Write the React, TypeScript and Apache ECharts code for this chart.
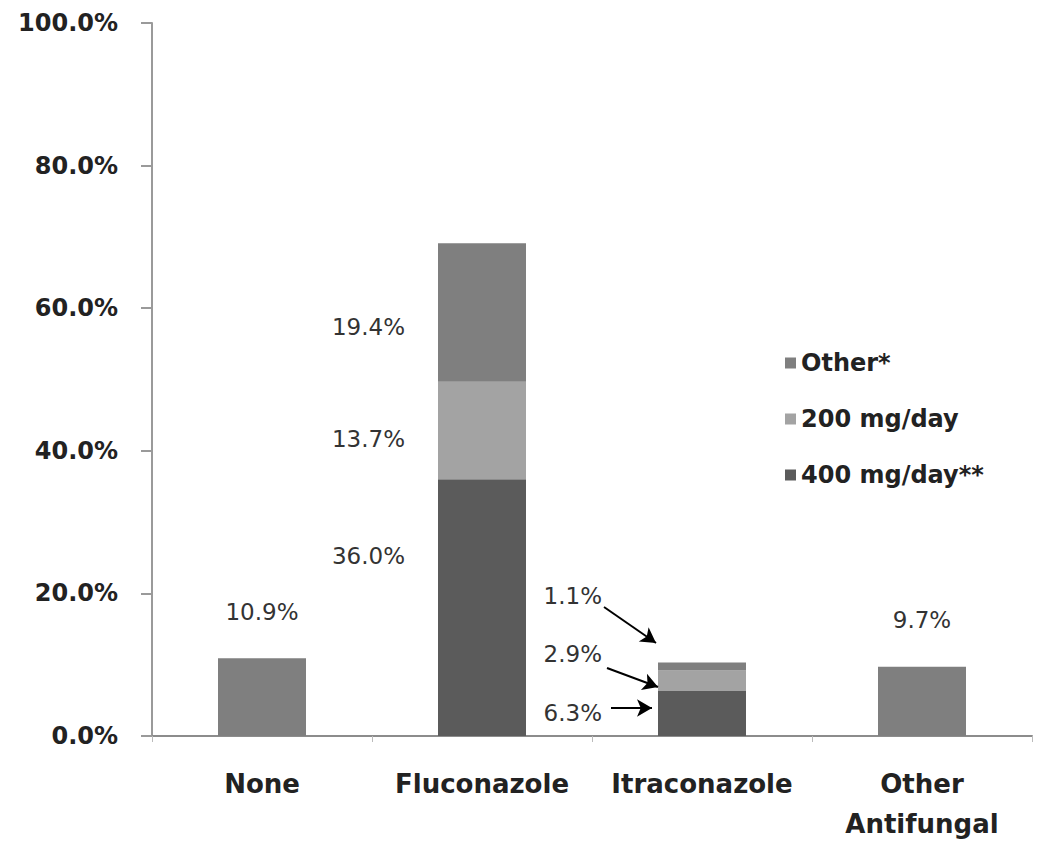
import React, { useEffect, useRef } from "react";
import * as echarts from "echarts";

const categories = ["None", "Fluconazole", "Itraconazole", "Other\nAntifungal"];
const seriesNames = ["400 mg/day**", "200 mg/day", "Other*"];
const dose400 = [null, 36.0, 6.3, null];
const dose200 = [null, 13.7, 2.9, null];
const otherDose = [10.9, 19.4, 1.1, 9.7];
const yTicks = [0, 20, 40, 60, 80, 100];
const colors = ["#5b5b5b", "#a3a3a3", "#7f7f7f"];

const valueFont = { fontFamily: "DejaVu Sans", fontSize: 23, color: "#333" };

// label placement per category (annotation layout only)
const fluconazoleOffsets = [-52, 9, 15];
const itraOffsets = [-1, -27, -70];

function buildData(values: (number | null)[], seriesIdx: number) {
  return values.map((v, i) => {
    if (v === null) return null;
    const fmt = v.toFixed(1) + "%";
    if (i === 1) {
      return {
        value: v,
        label: { show: true, position: "left", distance: 33, offset: [0, fluconazoleOffsets[seriesIdx]], formatter: fmt, ...valueFont },
      };
    }
    if (i === 2) {
      return {
        value: v,
        label: { show: true, position: "left", distance: 56, offset: [0, itraOffsets[seriesIdx]], formatter: fmt, ...valueFont },
      };
    }
    return {
      value: v,
      label: { show: true, position: "top", distance: 35, formatter: fmt, ...valueFont },
    };
  });
}

export default function App() {
  const ref = useRef<HTMLDivElement>(null);
  useEffect(() => {
    document.body.style.margin = "0";
    const chart = echarts.init(ref.current!, undefined, { renderer: "svg" });
    const arrow = (x1: number, y1: number, x2: number, y2: number) => [
      { x: x1, y: y1, symbol: "none" },
      { x: x2, y: y2, symbol: "arrow", symbolSize: [13, 15] },
    ];
    const seriesList = [dose400, dose200, otherDose].map((vals, idx) => ({
      name: seriesNames[idx],
      type: "bar",
      stack: "total",
      barWidth: 88,
      itemStyle: { color: colors[idx] },
      data: buildData(vals, idx),
      ...(idx === 2
        ? {
            markLine: {
              silent: true,
              animation: false,
              label: { show: false },
              lineStyle: { color: "#000", width: 2, type: "solid" },
              data: [arrow(604, 607, 656, 643), arrow(607, 668, 658, 687), arrow(611, 708, 652, 708)],
            },
          }
        : {}),
    }));
    chart.setOption({
      animation: false,
      backgroundColor: "#fff",
      grid: { left: 152, right: 18, top: 23, bottom: 110, containLabel: false },
      legend: {
        orient: "vertical",
        left: 780,
        top: 346,
        data: ["Other*", "200 mg/day", "400 mg/day**"],
        itemWidth: 11,
        itemHeight: 11,
        itemGap: 32,
        icon: "rect",
        textStyle: { fontFamily: "DejaVu Sans", fontWeight: "bold", fontSize: 24, color: "#222", lineHeight: 24 },
      },
      xAxis: {
        type: "category",
        data: categories,
        axisLine: { lineStyle: { color: "#8c8c8c", width: 2 } },
        axisTick: { show: true, interval: 0, length: 6, lineStyle: { color: "#bbb" } },
        axisLabel: {
          interval: 0,
          hideOverlap: false,
          margin: 28,
          fontFamily: "DejaVu Sans",
          fontWeight: "bold",
          fontSize: 26,
          lineHeight: 40,
          color: "#222",
        },
      },
      yAxis: {
        type: "value",
        min: yTicks[0],
        max: yTicks[yTicks.length - 1],
        interval: 20,
        splitLine: { show: false },
        axisLine: { show: true, lineStyle: { color: "#9a9a9a", width: 2 } },
        axisTick: { show: true, length: 11, lineStyle: { color: "#9a9a9a", width: 2 } },
        axisLabel: {
          margin: 34,
          formatter: (v: number) => v.toFixed(1) + "%",
          fontFamily: "DejaVu Sans",
          fontWeight: "bold",
          fontSize: 24,
          color: "#222",
        },
      },
      series: seriesList,
    });
    return () => chart.dispose();
  }, []);
  return <div ref={ref} style={{ position: "fixed", left: 0, top: 0, width: 1050, height: 846 }} />;
}
